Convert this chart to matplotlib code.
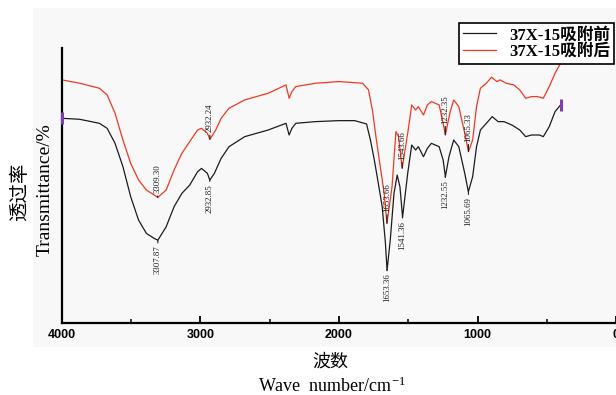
import numpy as np
import matplotlib
matplotlib.use("Agg")
import matplotlib.pyplot as plt
from matplotlib.patches import Rectangle
from matplotlib.ticker import MultipleLocator

plt.rcParams["mathtext.fontset"] = "custom"
plt.rcParams["mathtext.rm"] = "Liberation Serif"
plt.rcParams["mathtext.it"] = "Liberation Serif:italic"
plt.rcParams["mathtext.bf"] = "Liberation Serif:bold"

# ---------------- data ----------------
wn_before = [4000, 3872, 3730, 3674, 3617, 3560, 3504, 3447, 3390, 3333, 3308, 3248, 3191, 3135,
             3078, 3021, 2993, 2950, 2933, 2900, 2851, 2794, 2681, 2511, 2383, 2360, 2340, 2312,
             2170, 2000, 1887, 1801, 1773, 1745, 1716, 1688, 1665, 1653, 1630, 1603, 1580, 1560,
             1541, 1504, 1475, 1447, 1427, 1390, 1362, 1333, 1277, 1248, 1232, 1206, 1172, 1135,
             1092, 1066, 1035, 1007, 979, 936, 894, 851, 809, 752, 695, 652, 610, 553, 525, 482,
             440, 400]
t_before = [61.3, 61.0, 59.8, 58.3, 53.8, 46.8, 37.8, 30.8, 26.8, 25.3, 24.8, 28.8, 34.8, 38.8,
            41.3, 45.3, 46.3, 44.8, 42.8, 44.8, 49.3, 52.8, 55.8, 57.8, 59.8, 56.3, 58.3, 59.8,
            60.3, 60.6, 60.6, 59.6, 54.8, 48.8, 41.8, 34.8, 24.0, 15.8, 24.8, 38.8, 44.3, 40.8,
            31.7, 44.8, 53.3, 51.8, 52.8, 49.8, 52.3, 53.8, 52.8, 48.8, 43.8, 49.8, 54.8, 52.8,
            44.8, 39.3, 43.8, 52.8, 57.8, 59.8, 61.8, 60.3, 60.3, 59.3, 57.8, 55.8, 56.3, 56.3,
            55.8, 58.8, 63.3, 65.3]

wn_after = [4000, 3872, 3730, 3674, 3617, 3560, 3504, 3447, 3390, 3333, 3309, 3248, 3191, 3135,
            3078, 3021, 2993, 2950, 2932, 2890, 2851, 2794, 2681, 2511, 2383, 2360, 2340, 2312,
            2170, 2000, 1830, 1787, 1759, 1730, 1702, 1674, 1654, 1617, 1589, 1570, 1544, 1504,
            1475, 1447, 1427, 1390, 1362, 1333, 1277, 1248, 1232, 1200, 1172, 1135, 1092, 1065,
            1035, 1007, 979, 936, 899, 860, 837, 794, 738, 695, 652, 610, 567, 525, 482, 440, 400]
t_after = [72.8, 71.8, 70.3, 68.3, 62.8, 54.8, 47.8, 42.8, 39.8, 38.3, 37.6, 39.8, 45.8, 50.8,
           54.3, 57.8, 58.3, 56.8, 55.0, 57.8, 61.3, 64.3, 66.8, 68.8, 71.3, 67.3, 69.3, 70.8,
           71.8, 72.3, 71.8, 69.8, 63.8, 54.8, 46.8, 38.8, 29.8, 40.8, 57.3, 55.8, 46.3, 56.8,
           65.3, 63.8, 64.8, 62.3, 65.3, 66.3, 65.3, 59.8, 56.3, 62.8, 66.8, 64.8, 56.8, 51.3,
           54.8, 64.8, 70.3, 71.8, 73.6, 72.3, 72.8, 71.8, 71.3, 69.8, 67.3, 67.8, 67.8, 67.3,
           70.8, 74.8, 77.8]

peaks_before = [3307.87, 2932.85, 1653.36, 1541.36, 1232.55, 1065.69]
peaks_after = [3309.30, 2932.24, 1653.66, 1543.66, 1232.35, 1065.33]

series_names = ["37X-15吸附前", "37X-15吸附后"]
x_ticks = [4000, 3000, 2000, 1000, 0]
x_label_cn = "波数"
x_label_en = "Wave  number/cm$^{-1}$"
y_label_cn = "透过率"
y_label_en = "Transmittance/%"

# ---------------- styles ----------------
black = "#1c1c1c"
red = "#ee3a24"
serif = ["Liberation Serif", "Noto Sans CJK SC"]
off_before = [4, 3, 3, 3, 3, 4]   # points below the minimum
off_after = [3, 5, 8, 6, 8, 7]    # points above the minimum

fig = plt.figure(figsize=(6.16, 3.95), dpi=100)
fig.patch.set_facecolor("white")
fig.patches.append(Rectangle((33 / 616, (395 - 347) / 395), 1 - 33 / 616, (347 - 8) / 395,
                             transform=fig.transFigure, facecolor="#f8f8f8",
                             edgecolor="none", zorder=-10))

ax = fig.add_axes([62 / 616, (395 - 323) / 395, 1 - 62 / 616, (323 - 47.5) / 395])
ax.set_facecolor("none")

ax.plot(wn_before, t_before, color=black, lw=0.9, label=series_names[0])
ax.plot(wn_after, t_after, color=red, lw=0.9, label=series_names[1])

# small purple cursor marks at ends of the black curve
ax.plot([wn_before[0], wn_before[-1]], [t_before[0], t_before[-1]], ls="none",
        marker="|", ms=9, mew=2.2, color="#7b3fb0", clip_on=False, zorder=5)

xb = np.array(wn_before[::-1]); yb = np.array(t_before[::-1])
xa = np.array(wn_after[::-1]); ya = np.array(t_after[::-1])

for p, off in zip(peaks_before, off_before):
    yv = np.interp(p, xb, yb)
    ax.annotate(f"{p:.2f}", xy=(p, yv), xytext=(0, -off), textcoords="offset points",
                rotation=90, ha="center", va="top", fontsize=6.3, family=serif,
                color=black,
                arrowprops=dict(arrowstyle="-", lw=0.8, color=black, shrinkA=0, shrinkB=0))
for p, off in zip(peaks_after, off_after):
    yv = np.interp(p, xa, ya)
    ax.annotate(f"{p:.2f}", xy=(p, yv), xytext=(0, off), textcoords="offset points",
                rotation=90, ha="center", va="bottom", fontsize=6.3, family=serif,
                color=black,
                arrowprops=dict(arrowstyle="-", lw=0.8, color=black, shrinkA=0, shrinkB=0))

ax.set_xlim(4000, 0)
ax.set_ylim(0, 82.5)
ax.set_xticks(x_ticks)
ax.set_xticklabels([str(t) for t in x_ticks], fontsize=9, fontweight="bold",
                   family=["Liberation Sans"])
ax.xaxis.set_minor_locator(MultipleLocator(500))
ax.tick_params(axis="x", which="major", direction="in", length=5, width=1.3, pad=4)
ax.tick_params(axis="x", which="minor", direction="in", length=3, width=1.1)
ax.set_yticks([])
for s in ["top", "right"]:
    ax.spines[s].set_visible(False)
for s in ["left", "bottom"]:
    ax.spines[s].set_linewidth(1.6)

fig.text(20 / 616, 1 - 192 / 395, y_label_cn, rotation=90, ha="center", va="center",
         fontsize=14, family=serif)
fig.text(45 / 616, 1 - 190 / 395, y_label_en, rotation=90, ha="center", va="center",
         fontsize=14, family=serif)
fig.text(330 / 616, 1 - 362 / 395, x_label_cn, ha="center", va="center",
         fontsize=13, family=serif)
fig.text(332 / 616, 1 - 386 / 395, x_label_en, ha="center", va="center",
         fontsize=13, family=serif)

leg = ax.legend(loc="upper right", bbox_to_anchor=(614 / 616, 1 - 23 / 395),
                bbox_transform=fig.transFigure, borderaxespad=0, fancybox=False,
                frameon=True, edgecolor="black", facecolor="white", framealpha=1,
                handlelength=2.0, handletextpad=0.75, labelspacing=0.05, borderpad=0.25,
                prop={"family": serif, "weight": "bold", "size": 12})
leg.get_frame().set_linewidth(1.2)

fig.savefig("out.png", dpi=100)
